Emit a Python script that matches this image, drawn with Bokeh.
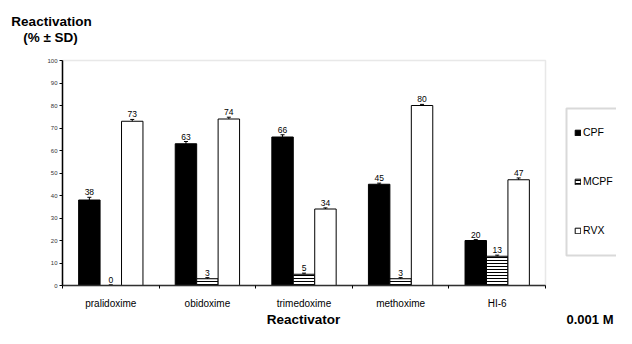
import numpy as np
from bokeh.plotting import figure
from bokeh.models import (ColumnDataSource, Range1d, FixedTicker, Whisker, TeeHead,
                          Label, Legend, LegendItem, BoxAnnotation, LinearAxis)
from bokeh.core.properties import value
from bokeh.embed import file_html
from bokeh.resources import INLINE

# ---- data ----
reactivators = ["pralidoxime", "obidoxime", "trimedoxime", "methoxime", "HI-6"]
series = ["CPF", "MCPF", "RVX"]
cpf = [38, 63, 66, 45, 20]
mcpf = [0, 3, 5, 3, 13]
rvx = [73, 74, 34, 80, 47]
cpf_sd = [1.2, 1.0, 1.0, 0.5, 0.4]
mcpf_sd = [0.3, 0.5, 0.5, 0.5, 0.5]
rvx_sd = [0.8, 0.8, 0.5, 0.5, 0.8]
y_ticks = [0, 10, 20, 30, 40, 50, 60, 70, 80, 90, 100]
y_max = 100

FONT = "Liberation Sans"
W, H = 616, 328
# chart area (pixels from top-left of the canvas)
PL, PR, PT, PB = 62, 545, 60, 285
ncat = len(reactivators)
xpx = (PR - PL) / ncat
ypx = (PB - PT) / y_max

p = figure(width=W, height=H, output_backend="svg", toolbar_location=None,
           x_range=Range1d(-PL / xpx, ncat + (W - PR) / xpx),
           y_range=Range1d(-(H - PB) / ypx, y_max + PT / ypx),
           min_border=0, x_axis_type=None, y_axis_type=None)
p.background_fill_color = "white"
p.border_fill_color = "white"
p.outline_line_color = None
p.xgrid.visible = False
p.ygrid.visible = False

# grey plot-area frame (top / right visible)
p.add_layout(BoxAnnotation(left=0, right=ncat, bottom=0, top=y_max, fill_color=None,
                           line_color="#b4b4b4", line_width=1.5, level="underlay"))

centers = np.arange(ncat) + 0.5
bw = 0.222
offsets = [-bw, 0.0, bw]
vals = [cpf, mcpf, rvx]
sds = [cpf_sd, mcpf_sd, rvx_sd]
styles = [
    dict(fill_color="black", line_color="black"),
    dict(fill_color="white", line_color="black", hatch_pattern="horizontal_line",
         hatch_color="black", hatch_scale=3, hatch_weight=1),
    dict(fill_color="white", line_color="black"),
]

renderers = []
for name, off, v, sd, st in zip(series, offsets, vals, sds, styles):
    v = np.array(v, dtype=float)
    sd = np.array(sd, dtype=float)
    src = ColumnDataSource(dict(x=centers + off, top=v, upper=v + sd,
                                lower=np.maximum(v - sd, 0),
                                lab=[str(int(a)) for a in v]))
    r = p.vbar(x="x", top="top", width=bw, bottom=0, source=src, line_width=1, **st)
    renderers.append(r)
    wh = Whisker(base="x", upper="upper", lower="lower", source=src, dimension="height",
                 line_color="black", line_width=1,
                 upper_head=TeeHead(size=4, line_color="black", line_width=1),
                 lower_head=TeeHead(size=4, line_color="black", line_width=1))
    p.add_layout(wh)
    p.text(x="x", y="upper", text="lab", source=src, text_align="center",
           text_baseline="bottom", y_offset=-2, text_font=value(FONT),
           text_font_size="8.5px", text_color="black")

# ---- axes (fixed at the data origin) ----
xa = LinearAxis(fixed_location=0, bounds=(0, ncat))
xa.ticker = FixedTicker(ticks=list(centers), minor_ticks=list(range(ncat + 1)))
xa.major_label_overrides = {float(c): n for c, n in zip(centers, reactivators)}
xa.major_tick_line_color = None
xa.major_tick_out = 0
xa.major_tick_in = 0
xa.minor_tick_out = 3
xa.minor_tick_in = 0
xa.minor_tick_line_color = "black"
xa.axis_line_color = "#303030"
xa.axis_line_width = 1.5
xa.major_label_standoff = 9
xa.major_label_text_font = FONT
xa.major_label_text_font_size = "10px"
xa.major_label_text_color = "black"
p.add_layout(xa, "below")

ya = LinearAxis(fixed_location=0, bounds=(0, y_max))
ya.ticker = FixedTicker(ticks=y_ticks)
ya.major_tick_out = 3
ya.major_tick_in = 0
ya.minor_tick_line_color = None
ya.axis_line_color = "black"
ya.axis_line_width = 1.5
ya.major_label_standoff = 2
ya.major_label_text_font = FONT
ya.major_label_text_font_size = "6px"
ya.major_label_text_color = "#333333"
p.add_layout(ya, "left")

# ---- texts (screen px, origin bottom-left of canvas) ----
def lab(text, x, y, size, align="center"):
    p.add_layout(Label(x=x, y=y, x_units="screen", y_units="screen", text=text,
                       text_font=FONT, text_font_size=size, text_font_style="bold",
                       text_align=align, text_baseline="middle", text_color="black"))

lab("Reactivation", 51, H - 21, "13.5px")
lab("(% \u00b1 SD)", 50, H - 37, "13.5px")
lab("Reactivator", 303, 9, "13.5px")
lab("0.001 M", 613, 9, "13px", align="right")

# ---- legend ----
p.add_layout(BoxAnnotation(left=566, right=W + 40, top=H - 108, bottom=H - 255,
                           left_units="screen", right_units="screen",
                           top_units="screen", bottom_units="screen",
                           fill_color=None, line_color="#808080", line_width=2))

legend = Legend(items=[LegendItem(label=n, renderers=[r]) for n, r in zip(series, renderers)],
                location=(574, 92), orientation="vertical",
                glyph_width=7, glyph_height=7, label_height=8, label_width=10,
                label_standoff=2, spacing=37, padding=0, margin=0,
                border_line_color=None, background_fill_alpha=0,
                label_text_font=FONT, label_text_font_size="10.5px",
                label_text_color="black")
p.add_layout(legend, "center")

open("out.html", "w").write(file_html(p, INLINE))
